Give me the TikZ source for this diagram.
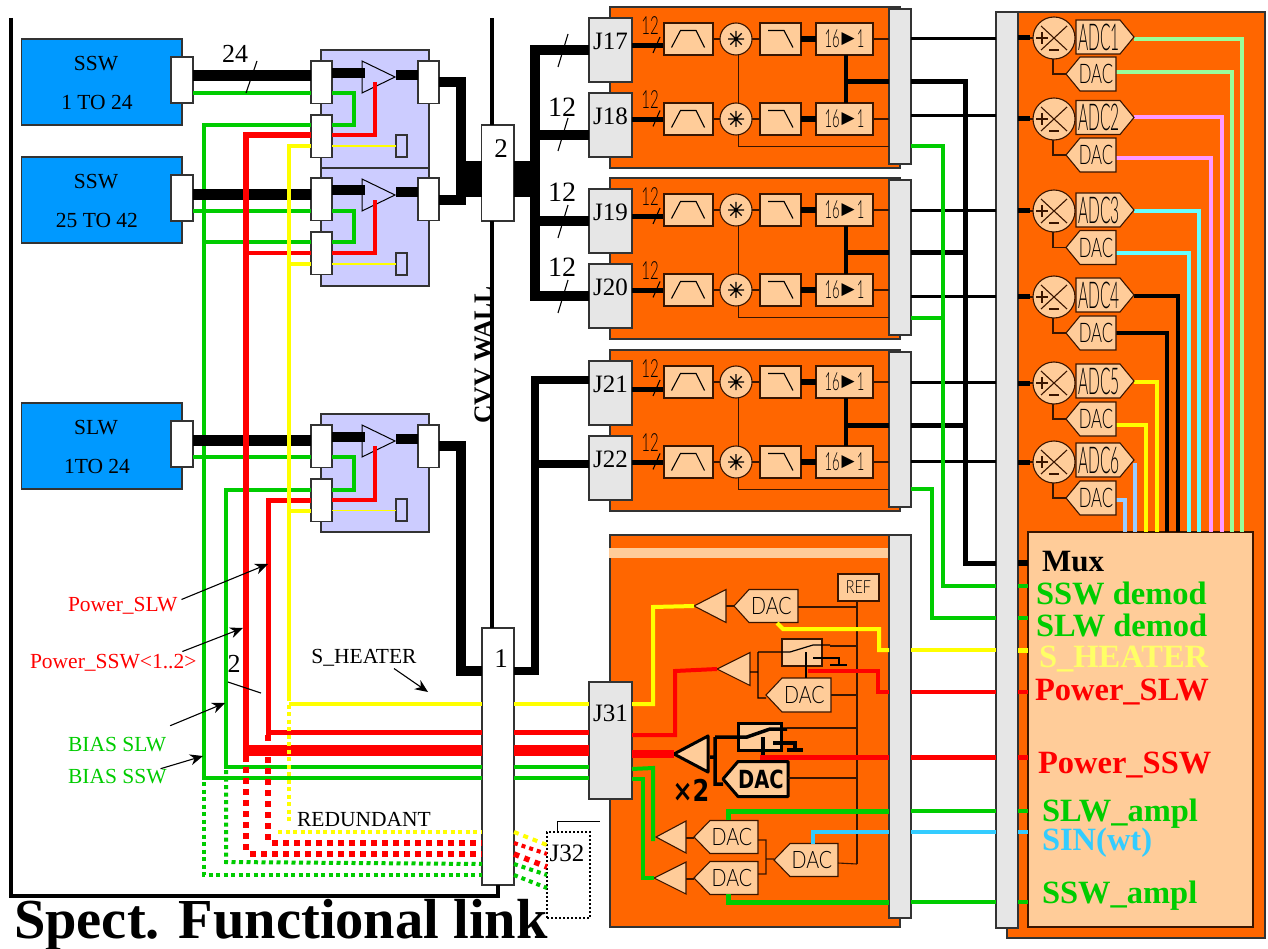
\documentclass[tikz,border=0pt]{standalone}
\usepackage{fontspec}
\usetikzlibrary{arrows.meta}
\setmainfont{Liberation Serif}
\newfontfamily\stf{Lato}[UprightFont=* Light]
\newfontfamily\djf{DejaVu Sans}
\definecolor{gr}{HTML}{00CC00}
\definecolor{ye}{HTML}{FFFF00}
\definecolor{lye}{HTML}{FFFF66}
\definecolor{og}{HTML}{FF6600}
\definecolor{pe}{HTML}{FFCC99}
\definecolor{la}{HTML}{CCCCFF}
\definecolor{bl}{HTML}{0099FF}
\definecolor{gy}{HTML}{E6E6E6}
\definecolor{ed}{HTML}{333333}
\definecolor{sky}{HTML}{33CCFF}
\definecolor{lgr}{HTML}{99FF99}
\definecolor{pk}{HTML}{FF99FF}
\definecolor{cy}{HTML}{66FFFF}
\definecolor{lbl}{HTML}{99CCFF}
\definecolor{bn}{HTML}{3A1500}
\newcommand\fs[1]{\fontsize{#1}{#1}\selectfont}
\newcommand\stick[3]{\scalebox{#1}[1]{\fs{#2}\stf #3}}
\tikzset{
  tx/.style={inner sep=0pt,outer sep=0pt},
  ser/.style={tx,font=\fs{21.5}},
  big/.style={tx,font=\fs{26}},
  bb/.style={tx,anchor=base west,font=\fs{32.5}\bfseries},
  boxed/.style={draw=ed,line width=1.1pt,inner sep=0pt,outer sep=0pt},
  peb/.style={boxed,fill=pe,draw=bn},
  port/.style={boxed,fill=white},
  gbar/.style={boxed,fill=gy},
  thin/.style={draw=bn,line width=1.1pt},
  tick/.style={draw=black,line width=1.1pt},
  pk1/.style={draw=bn,fill=pe,line width=1.1pt,line join=miter},
  pk2/.style={draw=black,fill=pe,line width=3pt,line join=round},
  wg/.style={draw=gr,line width=4pt},
  wr/.style={draw=red,line width=5pt},
  wy/.style={draw=ye,line width=4pt},
  wk/.style={draw=black,line width=10pt},
  dg/.style={draw=gr,line width=4pt,dash pattern=on 4pt off 3.5pt},
  dr/.style={draw=red,line width=5.5pt,dash pattern=on 5.5pt off 5.5pt},
  dy/.style={draw=ye,line width=4pt,dash pattern=on 4pt off 3.5pt},
  pt/.style={-{Stealth[length=13pt,width=11pt]},draw=black,line width=1.1pt}
}
% name x0 y0 x1 y1 style text
\newcommand\rect[7]{\node[#6,minimum width={((#4)-(#2))*1pt},minimum height={((#5)-(#3))*1pt}] (#1) at ({((#2)+(#4))/2},{((#3)+(#5))/2}) {#7};}
% name tip corner right yc halfh style label
\newcommand\pentL[8]{\draw[#7] (#2,#5) -- (#3,#5-#6) -- (#4,#5-#6) -- (#4,#5+#6) -- (#3,#5+#6) -- cycle; \node[tx] (#1) at ({(#3+#4)/2-2},#5) {#8};}
% name left corner tip yc halfh style label
\newcommand\pentR[8]{\draw[#7] (#2,#5-#6) -- (#3,#5-#6) -- (#4,#5) -- (#3,#5+#6) -- (#2,#5+#6) -- cycle; \node[tx] (#1) at ({(#2+#3)/2+1},#5) {#8};}
% name tip base yc halfh style
\newcommand\tri[6]{\draw[#6] (#2,#4) -- (#3,#4-#5) -- (#3,#4+#5) -- cycle; \coordinate (#1) at (#2,#4); \coordinate (#1b) at (#3,#4);}
\begin{document}
\begin{tikzpicture}[x=1pt,y=-1pt]
\useasboundingbox (0,0) rectangle (1268,949);
\fill[white] (0,0) rectangle (1268,949);

%% ===== orange cards
\foreach \n/\a/\b in {c1/7/168,c2/178/339,c3/350/511,c4/535/927}{
  \rect{\n}{610}{\a}{900}{\b}{boxed,fill=og}{}
}
\fill[pe] (609,548) rectangle (888,558);
\rect{c5}{1007}{12}{1265}{938}{boxed,fill=og}{}

%% ===== wall lines
\rect{box2}{481.5}{125}{514}{221}{port}{}
\rect{box1}{482}{628}{514}{885}{port}{}
\draw[black,line width=4pt] (box2.north -| 492,0) -- (492,18);
\draw[black,line width=4pt] (492,221) -- (492,628);
\draw[black,line width=4pt] (11,18) -- (11,896) -- (box1.south |- 0,896) -- (box1.south);
\node[tx] (n2) at (501,149) {\fs{27}2};
\node[tx] (n1) at (501,659) {\fs{27}1};
\node[tx,rotate=90,font=\fs{25.6}\bfseries] (cvv) at (483,355) {CVV WALL};

%% ===== lavender cards and detectors
\foreach \o/\n/\ti/\tii in {0/1/SSW/1 TO 24,118/2/SSW/25 TO 42,364/3/SLW/1TO 24}{
  \rect{bb\n}{21.5}{39+\o}{182}{125+\o}{boxed,fill=bl}{}
  \node[ser] (bt\n) at (96,64+\o) {\ti};
  \node[ser] (bu\n) at (97,102+\o) {\tii};
}
\foreach \y/\n in {50/1,168/2,414/3}{
  \rect{lv\n}{321}{\y}{429}{\y+118}{boxed,fill=la}{}
  \rect{sm\n}{396}{\y+85}{407}{\y+107}{boxed,fill=la}{}
  \tri{am\n}{395}{362}{\y+27}{16}{draw=black,line width=1pt,fill=la}
}
\rect{bp1}{171}{57}{193}{103}{port}{}
\rect{bp2}{171}{175}{193}{221}{port}{}
\rect{bp3}{171}{421}{193}{467}{port}{}
\foreach \y/\n in {61/1,178/2,425/3}{
  \rect{ia\n}{311}{\y}{332}{\y+42.5}{port}{}
  \rect{ib\n}{311}{\y+54}{332}{\y+96.5}{port}{}
  \rect{oa\n}{418}{\y}{439}{\y+42.5}{port}{}
}

%% ===== wires left of the wall: green first
\draw[wg] (ib1.west |- 0,125) -- (204,125) -- (204,778) -- (box1.west |- 0,778);
\draw[wg] (ib2.west |- 0,242.5) -- (204,242.5);
\draw[wg] (ib3.west |- 0,490) -- (226,490) -- (226,767) -- (box1.west |- 0,767);
\draw[wg] (bp1.east |- 0,93.5) -- (ia1.west |- 0,93.5);
\draw[wg] (bp2.east |- 0,211) -- (ia2.west |- 0,211);
\draw[wg] (bp3.east |- 0,457) -- (ia3.west |- 0,457);
\draw[wg] (ia1.east |- 0,93) -- (354,93) -- (354,125) -- (ib1.east |- 0,125);
\draw[wg] (ia2.east |- 0,211) -- (354,211) -- (354,242.5) -- (ib2.east |- 0,242.5);
\draw[wg] (ia3.east |- 0,457) -- (354,457) -- (354,490) -- (ib3.east |- 0,490);
%% black
\draw[black,line width=11pt] (bp1.east |- 0,76) -- (ia1.west |- 0,76);
\draw[black,line width=11pt] (bp2.east |- 0,194.5) -- (ia2.west |- 0,194.5);
\draw[black,line width=11pt] (bp3.east |- 0,440) -- (ia3.west |- 0,440);
\foreach \y/\n in {61/1,178/2,425/3}{
  \draw[black,line width=10pt] (ia\n.east |- 0,\y+12) -- (365,\y+12);
  \draw[black,line width=10pt] (396,\y+14) -- (oa\n.west |- 0,\y+14);
}
\draw[wk] (oa1.east |- 0,82) -- (461,82) -- (461,200) -- (oa2.east |- 0,200);
\draw[wk] (oa3.east |- 0,446) -- (461,446) -- (461,671) -- (box1.west |- 0,671);
\draw[black,line width=36pt] (463,179) -- (box2.west |- 0,179);
%% red
\draw[wr,line width=6pt] (ib1.west |- 0,135) -- (246,135) -- (246,750);
\draw[wr,line width=4pt] (ib2.west |- 0,253.5) -- (246,253.5);
\draw[wr] (ib3.west |- 0,500) -- (268,500) -- (268,732) -- (box1.west |- 0,732);
\draw[red,line width=11pt] (243,750) -- (box1.west |- 0,750);
\draw[wr,line width=4pt] (ib1.east |- 0,135) -- (375,135) -- (375,82);
\draw[wr,line width=4pt] (ib2.east |- 0,253.5) -- (375,253.5) -- (375,200);
\draw[wr,line width=4pt] (ib3.east |- 0,500) -- (375,500) -- (375,446);
%% yellow
\draw[wy] (ib1.west |- 0,146) -- (289,146) -- (289,697);
\draw[wy] (ib2.west |- 0,264) -- (289,264);
\draw[wy] (ib3.west |- 0,510.5) -- (289,510.5);
\draw[wy] (289,704) -- (box1.west |- 0,704);
\draw[ye,line width=1.5pt] (ib1.east |- 0,146) -- (sm1.west |- 0,146);
\draw[ye,line width=1.5pt] (ib2.east |- 0,264) -- (sm2.west |- 0,264);
\draw[ye,line width=1.5pt] (ib3.east |- 0,510.5) -- (sm3.west |- 0,510.5);
%% redundant
\draw[dy] (289,697) -- (289,822);
\draw[dy] (278,832) -- (box1.west |- 0,832);
\draw[dr] (268,735) -- (268,842);
\draw[dr] (272,843) -- (box1.west |- 0,843);
\draw[dr] (246,756) -- (246,853);
\draw[dr] (250,854) -- (box1.west |- 0,854);
\draw[dg] (226,770) -- (226,862) -- (box1.west |- 0,864);
\draw[dg] (204,782) -- (204,875) -- (box1.west |- 0,875);
\rect{j32}{547}{832}{590}{918}{draw=black,line width=2pt,dash pattern=on 2pt off 2pt,inner sep=0pt,outer sep=0pt}{}
\node[tx] (j32t) at (567,853) {\fs{25}J32};
\draw[tick,line width=1pt] (j32.north -| 557,0) -- (557,821) -- (600,821);
\draw[dy,dash pattern=on 5pt off 5pt] (box1.east |- 0,832) -- (j32.west |- 0,845);
\draw[dr,line width=4pt,dash pattern=on 4pt off 4pt] (box1.east |- 0,843) -- (j32.west |- 0,854);
\draw[dr] (box1.east |- 0,854) -- (j32.west |- 0,867);
\draw[dg,dash pattern=on 4pt off 4pt] (box1.east |- 0,864) -- (j32.west |- 0,875);
\draw[dg,dash pattern=on 4pt off 4pt] (box1.east |- 0,875) -- (j32.west |- 0,888);

%% ===== labels left
\node[big] (l24) at (235,54) {24};
\draw[tick] (246,93) -- (257,61);
\node[big] (l2) at (234,664) {2};
\draw[tick] (228,682) -- (261,693);
\node[ser,text=red,anchor=west] (lpslw) at (68,606) {Power\_SLW};
\node[ser,text=red,anchor=west] (lpssw) at (30,663) {Power\_SSW<1..2>};
\node[ser,text=gr,anchor=west] (lbslw) at (68,745) {BIAS SLW};
\node[ser,text=gr,anchor=west] (lbssw) at (68,777) {BIAS SSW};
\node[ser] (lhe) at (364,658) {S\_HEATER};
\node[ser] (lre) at (364,820) {REDUNDANT};
\coordinate (a1) at (268,564); \coordinate (a2) at (243,628); \coordinate (a3) at (225,703);
\coordinate (a4) at (203,756); \coordinate (a5) at (428,692);
\draw[pt] (lpslw.north east) ++(4,2) -- (a1);
\draw[pt] (lpssw.north east) ++(-14,-3) -- (a2);
\draw[pt] (lbslw.north east) ++(4,-12) -- (a3);
\draw[pt] (lbssw.north east) ++(-6,-1) -- (a4);
\draw[pt] (lhe.south) ++(30,2) -- (a5);
\node[tx,anchor=base west,font=\fs{56.5}\bfseries] (title) at (14,938) {Spect. Functional link};

%% ===== detector channels
\foreach \o/\a/\b in {0/17/18,171/19/20,343/21/22}{
\begin{scope}[shift={(0,\o)}]
  \rect{J\a}{589}{18}{632}{82}{gbar}{}
  \rect{J\b}{589}{93}{632}{157}{gbar}{}
  \node[tx] (Jt\a) at (610.5,41) {\fs{25}J\a};
  \node[tx] (Jt\b) at (610.5,116) {\fs{25}J\b};
  \rect{bar\a}{889}{9}{911}{164}{gbar}{}
  \foreach \r/\j/\wiy/\ly in {39/\a/46/26,119/\b/119.5/100}{
    \draw[black,line width=5pt] (J\j.east |- 0,\wiy) -- (664,\wiy);
    \draw[tick] (653,\wiy+7) -- (660,\wiy-9);
    \node[tx] (tw\j) at (650,\ly) {\stick{.6}{25}{12}};
    \draw[thin] (713,\r) -- (bar\a.west |- 0,\r);
    \rect{f\j}{664}{\r-16}{713}{\r+16}{peb}{}
    \draw[tick] (f\j.west) ++(7.5,8.5) -- ++(9,-17) -- ++(15.5,0) -- ++(8.5,17);
    \node[peb,circle,minimum size=32pt] (m\j) at (736,\r) {};
    \draw[tick] (m\j.center) ++(-8,0) -- ++(16,0) ++(-8,-8) -- ++(0,16) ++(-5.7,-13.7) -- ++(11.4,11.4) ++(0,-11.4) -- ++(-11.4,11.4);
    \fill[black] (m\j.center) circle (1.4pt);
    \rect{lp\j}{760}{\r-16}{801}{\r+16}{peb}{}
    \draw[tick] (lp\j.west) ++(8,-8.5) -- ++(16,0) -- ++(9,17);
    \rect{cn\j}{816}{\r-16}{873}{\r+16}{peb}{}
    \node[tx] (ct\j) at (cn\j) {\stick{.52}{25}{16}\hspace{2pt}\raisebox{4.5pt}{\djf\fs{17}▶}\hspace{2pt}\stick{.52}{25}{1}};
    \draw[black,line width=6pt] (lp\j.east) -- (cn\j.west);
  }
  \draw[thin] (738.7,55) -- (738.7,103);
  \draw[thin] (738.7,135) -- (738.7,146.5) -- (bar\a.west |- 0,146.5);
  \draw[black,line width=4pt] (846,55) -- (846,103);
  \draw[black,line width=5pt] (846,82) -- (bar\a.west |- 0,82);
\end{scope}
}
%% bundles to J connectors
\draw[black,line width=36pt] (box2.east |- 0,179) -- (532,179);
\draw[wk] (J17.west |- 0,50) -- (535,50) -- (535,296) -- (J20.west |- 0,296);
\draw[wk] (535,135) -- (J18.west |- 0,135);
\draw[wk] (535,221) -- (J19.west |- 0,221);
\draw[wk,line width=8pt] (box1.east |- 0,671) -- (535,671) -- (535,380) -- (J21.west |- 0,380);
\draw[wk,line width=8pt] (535,464) -- (J22.west |- 0,464);
\foreach \ya/\yb/\yl in {34/67/0,118/151/107,205/238/192,280/313/267}{
  \draw[tick] (568,\ya) -- (558,\yb);
}
\node[big,font=\fs{28}] (t12a) at (562,107) {12};
\node[big,font=\fs{28}] (t12b) at (562,192) {12};
\node[big,font=\fs{28}] (t12c) at (562,267) {12};

%% ===== large right card
\rect{bigbar}{996}{12}{1018}{928}{gbar}{}
\rect{mux}{1028}{532}{1253}{927}{boxed,fill=pe,draw=bn}{}
\foreach \ay/\cy/\dy/\lab/\cc/\xa/\xd/\ya/\yd in {
  38/37/74/1/lgr/1242/1232/39/72,
  119/117.5/155/2/pk/1222/1211/117/158,
  211/210/247.5/3/cy/1199/1189/211/253,
  297/295/333/4/black/1178/1167/296/333,
  383/381/419/5/ye/1157/1146/382/425}{
  \draw[draw=\cc,line width=4pt] (1134,\ya) -- (\xa,\ya) -- (\xa,532);
  \draw[draw=\cc,line width=4pt] (1114,\yd) -- (\xd,\yd) -- (\xd,532);
}
\draw[lbl,line width=4pt] (1135,463) -- (1135,532);
\draw[lbl,line width=4pt] (1114,500) -- (1125,500) -- (1125,532);
\foreach \ay/\cy/\dy/\lab/\y in {38/37/74/1/39,119/117.5/155/2/116,211/210/247.5/3/211,297/295/333/4/297,383/381/419/5/382,462/460/498/6/461}{
  \draw[thin,line width=1.1pt] (1053,\ay+21) -- (1053,\dy) -- (1066,\dy);
  \draw[thin] (1028,\ay) -- (1033,\ay);
  \node[peb,circle,minimum size=42pt] (ad\lab) at (1054,\ay) {};
  \draw[tick,draw=bn] (ad\lab.center) ++(-13,-12) -- ++(26,24) ++(0,-24) -- ++(-26,24);
  \draw[tick,draw=bn] (1036,\ay) -- (1048,\ay) ++(-6,-6) -- ++(0,12) (1049,\ay+12) -- (1059,\ay+12);
  \pentR{adc\lab}{1076}{1120}{1134}{\cy}{17}{pk1}{\stick{.42}{37}{ADC\lab}}
  \pentL{da\lab}{1066}{1080}{1116}{\dy}{17}{pk1}{\stick{.62}{27}{DAC}}
  \draw[black,line width=5pt] (bigbar.east |- 0,\ay) -- (1030,\ay);
}

%% ===== control card
\rect{bar4}{889}{535}{911}{918}{gbar}{}
\rect{J31}{589}{682}{632}{799}{gbar}{}
\node[tx] (J31t) at (610.5,713) {\fs{25}J31};
\rect{ref}{838}{574}{879}{601}{peb}{\stick{.8}{18}{REF}}
\draw[thin] (ref.south -| 857,0) -- (857,864);
% DAC 1
\tri{ta}{694}{726}{606}{16.5}{pk1}
\pentL{d1}{734}{749}{798}{606}{16.5}{pk1}{\stick{.82}{24}{DAC}}
\draw[thin] (tab) -- (734,606);
\draw[thin] (798,607) -- (857,607);
% DAC 2 + switch
\tri{tb}{717}{750}{669}{16.5}{pk1}
\pentL{d2}{766}{782}{831}{695}{17}{pk1}{\stick{.82}{24}{DAC}}
\rect{sw}{782}{639}{822}{666}{peb}{}
\draw[draw=black,line width=1.2pt] (750,672) -- (758,672) (758,652) -- (758,698) -- (766,698) (758,652) -- (sw.west |- 0,652) -- (790,652) -- (813,645) -- (830,645);
\draw[thin] (830,646) -- (857,646);
\draw[draw=black,line width=1.2pt] (806,652) -- (806,678) (813,658) -- (839,658) -- (839,665) (830,665) -- (847,665);
\draw[thin] (831,695) -- (857,695);
% thick DAC + switch
\tri{tc}{674}{708}{754}{18}{pk2}
\pentL{d3}{723}{738}{788}{779}{17.5}{pk2}{\scalebox{.78}[1]{\djf\bfseries\fs{25}DAC}}
\rect{sx}{738}{723}{781}{750}{peb,draw=black,line width=3pt}{}
\draw[black,line width=3.5pt] (710,757) -- (715,757) (715,737) -- (715,784) -- (723,784) (715,737) -- (747,737) -- (770,729) -- (787,729);
\draw[thin] (787,728) -- (857,728);
\draw[black,line width=3.5pt] (763,737) -- (763,763) (773,743) -- (795,743) -- (795,750);
\draw[black,line width=4pt] (787,750) -- (803,750);
\draw[thin] (788,778) -- (857,778);
\node[tx] (x2) at (691,790) {\djf\bfseries\scalebox{.8}[1]{\fs{30}×2}};
% ampl DACs
\tri{td}{656}{686}{837}{16}{pk1}
\tri{te}{654}{686}{878}{16}{pk1}
\pentL{d4}{694}{710}{758}{837}{16.5}{pk1}{\stick{.82}{24}{DAC}}
\pentL{d5}{694}{710}{758}{878}{16.5}{pk1}{\stick{.82}{24}{DAC}}
\pentL{d6}{774}{790}{838}{860}{16.5}{pk1}{\stick{.82}{24}{DAC}}
\draw[thin] (686,838) -- (694,838) (686,879) -- (694,879);
\draw[thin] (758,840) -- (766,840) -- (766,874) -- (758,874) (766,859) -- (774,859) (838,863) -- (857,864);
%% coloured wires of the control card
\draw[wy] (J31.east |- 0,704) -- (653,704) -- (653,607) -- (ta);
\draw[wy] (777,623) -- (783,629) -- (879,629) -- (879,650) -- (bar4.west |- 0,650);
\draw[wr,line width=4pt] (J31.east |- 0,735) -- (675,735) -- (675,671) -- (tb);
\draw[wr,line width=4pt] (808,671) -- (878,671) -- (878,692) -- (bar4.west |- 0,692);
\draw[red,line width=8pt] (J31.east |- 0,754) -- (tc);
\draw[wr,line width=5pt] (760,757) -- (bar4.west |- 0,757);
\draw[wg] (J31.east |- 0,769) -- (653,768) -- (653,841);
\draw[wg] (J31.east |- 0,779) -- (643,779) -- (643,878) -- (te);
\draw[wg,line width=5pt] (728,820) -- (728,811) -- (bar4.west |- 0,811);
\draw[sky,line width=4pt] (813,844) -- (813,832) -- (bar4.west |- 0,832);
\draw[wg,line width=5pt] (728,894) -- (728,902) -- (bar4.west |- 0,902);
% through wall to J31
\draw[wy] (box1.east |- 0,704) -- (J31.west |- 0,704);
\draw[wr] (box1.east |- 0,732) -- (J31.west |- 0,732);
\draw[red,line width=11pt] (box1.east |- 0,750) -- (J31.west |- 0,750);
\draw[wg] (box1.east |- 0,767) -- (J31.west |- 0,767);
\draw[wg] (box1.east |- 0,778) -- (J31.west |- 0,778);

%% ===== between the bars
\draw[black,line width=3pt] (bar17.east |- 0,39) -- (bigbar.west |- 0,39);
\draw[black,line width=3pt] (bar17.east |- 0,116) -- (bigbar.west |- 0,116);
\draw[black,line width=3pt] (bar19.east |- 0,211) -- (bigbar.west |- 0,211);
\draw[black,line width=3pt] (bar19.east |- 0,297) -- (bigbar.west |- 0,297);
\draw[black,line width=3pt] (bar21.east |- 0,382) -- (bigbar.west |- 0,382);
\draw[black,line width=3pt] (bar21.east |- 0,461) -- (bigbar.west |- 0,461);
\draw[wk,line width=5pt] (bar17.east |- 0,82) -- (965,82) -- (965,563) -- (bigbar.west |- 0,563);
\draw[wk,line width=5pt] (bar19.east |- 0,253) -- (965,253);
\draw[wk,line width=5pt] (bar21.east |- 0,425) -- (965,425);
\draw[wg] (bar17.east |- 0,146) -- (943,146) -- (943,586) -- (bigbar.west |- 0,586);
\draw[wg] (bar19.east |- 0,318) -- (943,318);
\draw[wg] (bar21.east |- 0,489) -- (932,489) -- (932,618) -- (bigbar.west |- 0,618);
\draw[wy] (bar4.east |- 0,650) -- (bigbar.west |- 0,650);
\draw[wr,line width=4pt] (bar4.east |- 0,692) -- (bigbar.west |- 0,692);
\draw[wr] (bar4.east |- 0,757) -- (bigbar.west |- 0,757);
\draw[wg] (bar4.east |- 0,811) -- (bigbar.west |- 0,811);
\draw[sky,line width=4pt] (bar4.east |- 0,832) -- (bigbar.west |- 0,832);
\draw[wg] (bar4.east |- 0,902) -- (bigbar.west |- 0,902);
%% into the mux
\draw[black,line width=6pt] (bigbar.east |- 0,563) -- (mux.west |- 0,563);
\draw[wg] (bigbar.east |- 0,586) -- (mux.west |- 0,586);
\draw[wg] (bigbar.east |- 0,618) -- (mux.west |- 0,618);
\draw[wy,line width=5pt] (bigbar.east |- 0,650) -- (mux.west |- 0,650);
\draw[wr,line width=4pt] (bigbar.east |- 0,692) -- (mux.west |- 0,692);
\draw[wr] (bigbar.east |- 0,757) -- (mux.west |- 0,757);
\draw[wg] (bigbar.east |- 0,811) -- (mux.west |- 0,811);
\draw[sky,line width=4pt] (bigbar.east |- 0,832) -- (mux.west |- 0,832);
\draw[wg] (bigbar.east |- 0,902) -- (mux.west |- 0,902);
%% mux labels
\node[bb,font=\fs{31}\bfseries] (mx0) at (1042,571) {Mux};
\node[bb,text=gr] (mx1) at (1036,604) {SSW demod};
\node[bb,text=gr] (mx2) at (1036,636) {SLW demod};
\node[bb,text=lye] (mx3) at (1039,667) {S\_HEATER};
\node[bb,text=red] (mx4) at (1035,700) {Power\_SLW};
\node[bb,text=red] (mx5) at (1038,773) {Power\_SSW};
\node[bb,text=gr] (mx6) at (1042,821) {SLW\_ampl};
\node[bb,text=sky] (mx7) at (1042,850) {SIN(wt)};
\node[bb,text=gr] (mx8) at (1042,903) {SSW\_ampl};
\end{tikzpicture}
\end{document}
